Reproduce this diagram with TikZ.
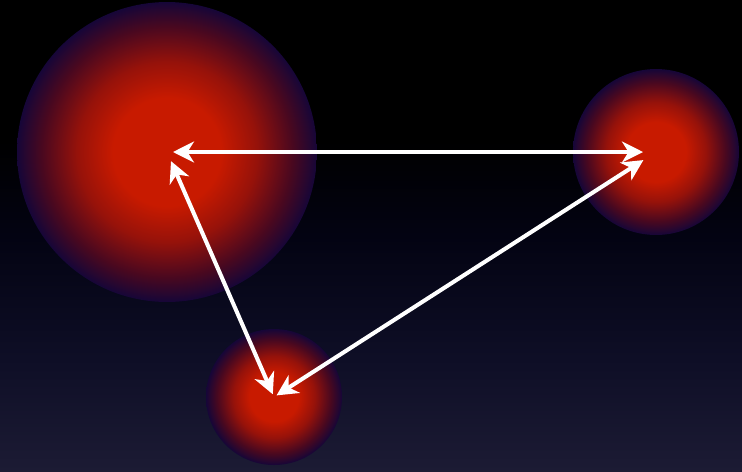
\documentclass[tikz,border=0pt]{standalone}
\usetikzlibrary{arrows.meta}
\definecolor{bgTop}{RGB}{0,0,0}
\definecolor{bgMid}{RGB}{3,3,18}
\definecolor{bgLow}{RGB}{14,14,38}
\definecolor{bgBot}{RGB}{28,27,52}
\definecolor{ballCore}{RGB}{200,26,0}
\definecolor{ballWarm}{RGB}{150,18,10}
\definecolor{ballMid}{RGB}{72,8,32}
\definecolor{ballEdge}{RGB}{22,6,56}
\pgfdeclareverticalshading{skyshade}{100bp}{%
  color(0bp)=(bgBot); color(25bp)=(bgBot); color(37bp)=(bgLow);
  color(50bp)=(bgMid); color(60bp)=(bgTop); color(100bp)=(bgTop)}
\pgfdeclareradialshading{ballshade}{\pgfpoint{0bp}{0bp}}{%
  color(0bp)=(ballCore); color(9bp)=(ballCore); color(15bp)=(ballWarm);
  color(21bp)=(ballMid); color(25bp)=(ballEdge); color(50bp)=(ballEdge)}
\tikzset{
  ball/.style={circle, shading=ballshade, inner sep=0pt},
  link/.style={{Stealth[length=0.42cm, width=0.42cm, inset=0.13cm]}-{Stealth[length=0.42cm, width=0.42cm, inset=0.13cm]},
    white, line width=2.3pt},
}
\begin{document}
\begin{tikzpicture}[x=0.02cm, y=-0.02cm]

%% BACKGROUND
\useasboundingbox (0,0) rectangle (742,471);
\shade[shading=skyshade] (0,0) rectangle (742,471);

%% BALLS
\node[ball, minimum size=6cm]    (big)    at (167,152) {};
\node[ball, minimum size=3.32cm] (right)  at (656,152) {};
\node[ball, minimum size=2.72cm] (bottom) at (274,397) {};

%% ARROWS
\draw[link, shorten <=0.12cm, shorten >=0.26cm] (big.center) -- (right.center);
\draw[link, shorten <=0.2cm, shorten >=0.06cm]  (big.center) -- (bottom.center);
\draw[link, shorten <=0.06cm, shorten >=0.3cm]  (bottom.center) -- (right.center);

\end{tikzpicture}
\end{document}
